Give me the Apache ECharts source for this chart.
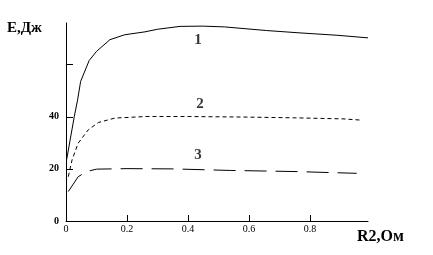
<!DOCTYPE html>
<html>
<head>
<meta charset="utf-8">
<script src="https://cdn.jsdelivr.net/npm/echarts@6/dist/echarts.min.js"></script>
<style>html,body{margin:0;padding:0;background:#fff}#c{width:433px;height:255px}</style>
</head>
<body>
<div id="c"></div>
<script>
// Curve 1 (solid)
const r1 = [0.002, 0.027, 0.038, 0.048, 0.076, 0.10, 0.144, 0.193, 0.259, 0.30, 0.374, 0.45, 0.52, 0.658, 0.767, 0.888, 0.99];
const e1 = [23.5, 40, 46.5, 53.6, 61.6, 65.1, 69.6, 71.5, 72.6, 73.6, 74.7, 74.8, 74.5, 73.1, 72.2, 71.3, 70.3];
// Curve 2 (short dashes)
const r2 = [0.0075, 0.02, 0.04, 0.073, 0.106, 0.16, 0.26, 0.40, 0.58, 0.75, 0.908, 0.97];
const e2 = [17, 23.5, 29.9, 35, 37.8, 39.5, 40.1, 40.1, 39.9, 39.6, 39.2, 38.7];
// Curve 3 (long dashes)
const r3 = [0.0075, 0.04, 0.068, 0.10, 0.20, 0.35, 0.54, 0.744, 0.953];
const e3 = [11.3, 17, 19, 19.9, 20.1, 20.0, 19.4, 19.0, 18.3];
// Curve numbers and their positions in data space
const curveNames = ['1', '2', '3'];
const nameR = [0.433, 0.439, 0.433];
const nameE = [69.4, 44.7, 25.3];
// Tick values
const xTicks = [0.2, 0.4, 0.6, 0.8];
const xLabels = [0, 0.2, 0.4, 0.6, 0.8];
const yTicks = [20, 40, 60];
const yLabels = [0, 20, 40];

const zip = (a, b) => a.map((v, i) => [v, b[i]]);
const font = '"Liberation Serif", "Times New Roman", serif';

const chart = echarts.init(document.getElementById('c'), null, {renderer: 'canvas'});
chart.setOption({
  animation: false,
  backgroundColor: '#fff',
  grid: {left: 66, right: 65, top: 23, bottom: 34},
  xAxis: {
    type: 'value', min: 0, max: 0.99,
    axisLine: {lineStyle: {color: '#000', width: 1}},
    axisTick: {inside: true, length: 6, lineStyle: {color: '#000'}, customValues: xTicks},
    axisLabel: {customValues: xLabels, color: '#000', fontFamily: font, fontSize: 10, margin: 3,
      formatter: v => String(v)},
    splitLine: {show: false}
  },
  yAxis: {
    type: 'value', min: 0, max: 76,
    axisLine: {show: true, lineStyle: {color: '#000', width: 1}},
    axisTick: {show: true, inside: true, length: 7, lineStyle: {color: '#000'}, customValues: yTicks},
    axisLabel: {customValues: yLabels, color: '#000', fontFamily: font, fontSize: 10, fontWeight: 'bold', margin: 7},
    splitLine: {show: false}
  },
  graphic: [
    {type: 'text', left: 7, top: 21, style: {text: 'E,Дж', font: 'bold 15px ' + font, fill: '#000'}},
    {type: 'text', left: 357, top: 229, style: {text: 'R2,Ом', font: 'bold 16px ' + font, fill: '#000'}}
  ],
  series: [
    {type: 'line', data: zip(r1, e1), symbol: 'none', lineStyle: {color: '#000', width: 1, type: 'solid'}},
    {type: 'line', data: zip(r2, e2), symbol: 'none', lineStyle: {color: '#000', width: 1, type: [4, 3]}},
    {type: 'line', data: zip(r3, e3), symbol: 'none', lineStyle: {color: '#000', width: 1, type: [22, 9]}},
    {type: 'scatter', data: zip(nameR, nameE).map((p, i) => ({value: p, name: curveNames[i]})),
      symbolSize: 0, silent: true,
      label: {show: true, position: 'inside', formatter: p => p.name, color: '#000', fontFamily: font, fontSize: 15, fontWeight: 'bold'}}
  ]
});
</script>
</body>
</html>
